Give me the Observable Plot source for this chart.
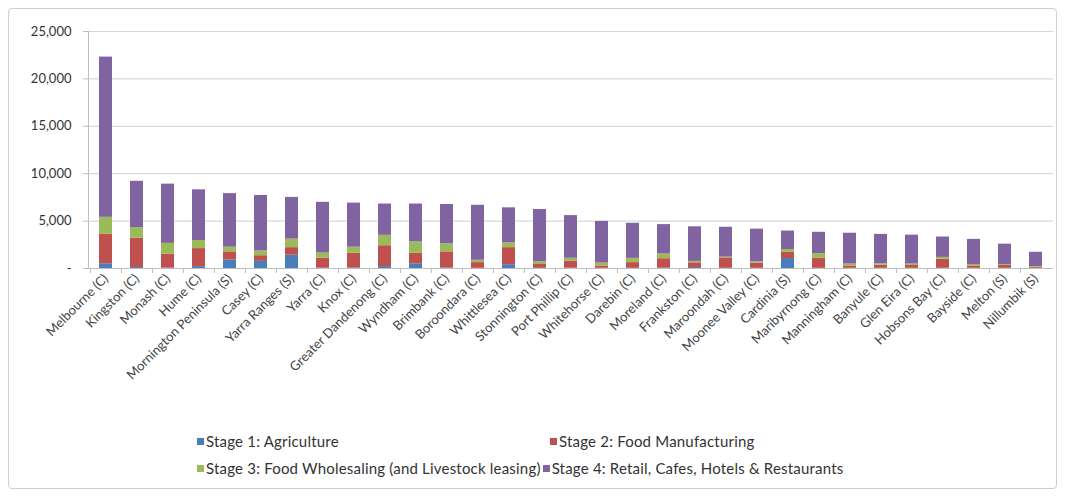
<!DOCTYPE html>
<html>
<head>
<meta charset="utf-8">
<script src="https://cdn.jsdelivr.net/npm/d3@7"></script>
<script src="https://cdn.jsdelivr.net/npm/@observablehq/plot@0.6"></script>
<style>
  html, body { margin: 0; padding: 0; background: #fff; }
  body { width: 1065px; height: 498px; position: relative; overflow: hidden; font-family: Lato, "Open Sans", sans-serif; }
  #frame { position: absolute; left: 8px; top: 8px; width: 1049px; height: 481px; border: 1px solid #cfcfcf; border-radius: 4px; box-sizing: border-box; }
  #chart { position: absolute; left: 0; top: 0; }
  .row { position: absolute; display: flex; align-items: center; }
  .leg { font-size: 15px; letter-spacing: 0.2px; color: #333; display: flex; align-items: center; white-space: nowrap; line-height: 18px; }
  .sw { width: 7px; height: 7px; margin-right: 2px; display: inline-block; }
</style>
</head>
<body>
<div id="frame"></div>
<div id="chart"></div>
<div id="legend"></div>
<script>
const councils = ["Melbourne (C)","Kingston (C)","Monash (C)","Hume (C)","Mornington Peninsula (S)","Casey (C)","Yarra Ranges (S)","Yarra (C)","Knox (C)","Greater Dandenong (C)","Wyndham (C)","Brimbank (C)","Boroondara (C)","Whittlesea (C)","Stonnington (C)","Port Phillip (C)","Whitehorse (C)","Darebin (C)","Moreland (C)","Frankston (C)","Maroondah (C)","Moonee Valley (C)","Cardinia (S)","Maribyrnong (C)","Manningham (C)","Banyule (C)","Glen Eira (C)","Hobsons Bay (C)","Bayside (C)","Melton (S)","Nillumbik (S)"];
const stages = ["Stage 1: Agriculture","Stage 2: Food Manufacturing","Stage 3: Food Wholesaling (and Livestock leasing)","Stage 4: Retail, Cafes, Hotels & Restaurants"];
const stage1 = [500,100,50,200,900,750,1400,30,50,200,500,50,20,400,20,30,20,20,30,100,20,20,1050,20,20,20,20,20,20,20,30];
const stage2 = [3100,3100,1450,1900,850,600,800,1050,1550,2200,1100,1700,600,1800,400,750,250,600,1000,500,1100,550,650,1050,250,330,300,950,250,300,120];
const stage3 = [1800,1100,1150,850,500,500,900,550,650,1100,1200,850,250,500,300,300,300,450,500,150,80,130,300,500,200,150,150,200,150,100,60];
const stage4 = [16900,4900,6250,5350,5650,5850,4400,5350,4650,3300,4000,4150,5800,3700,5500,4500,4400,3700,3100,3650,3150,3450,1950,2250,3250,3100,3050,2150,2650,2150,1500];
const colors = ["#4a7ebb","#c0504d","#9bbb59","#8064a2"];
const yTicks = [0,5000,10000,15000,20000,25000];

const series = [stage1, stage2, stage3, stage4];
const rows = [];
councils.forEach((c, i) => stages.forEach((s, k) => rows.push({council: c, stage: s, value: series[k][i]})));

const W = 1065, mL = 88, mR = 12;
const step = (W - mL - mR) / councils.length;

const chart = Plot.plot({
  width: W,
  height: 430,
  marginLeft: mL,
  marginRight: mR,
  marginTop: 31,
  marginBottom: 162,
  style: {fontFamily: "Lato, 'Open Sans', sans-serif", fontSize: "13px", color: "#333", background: "transparent"},
  x: {domain: councils, paddingInner: 0.58, paddingOuter: 0.29, label: null},
  y: {domain: [0, 25000], ticks: yTicks, label: null},
  color: {domain: stages, range: colors},
  marks: [
    Plot.gridY(yTicks, {stroke: "#d9d9d9", strokeOpacity: 1, strokeWidth: 1.2}),
    Plot.frame({anchor: "left", stroke: "#bdbdbd"}),
    Plot.barY(rows, {x: "council", y: "value", fill: "stage", order: stages}),
    Plot.ruleY([0], {stroke: "#bdbdbd", strokeWidth: 1.2}),
    Plot.axisY({ticks: yTicks, tickSize: 5, tickPadding: 12, stroke: "#bdbdbd", tickFormat: d => d === 0 ? "-" : d3.format(",")(d), fill: "#333", fontSize: 13}),
    Plot.axisX({tickSize: 5, text: null, stroke: "#bdbdbd", dx: -step / 2}),
    Plot.axisX({tickSize: 0, tickRotate: -45, tickPadding: 8, fill: "#444", fontSize: 13, label: null})
  ]
});
document.getElementById("chart").appendChild(chart);

const legend = document.getElementById("legend");
function item(k) {
  const d = document.createElement("div");
  d.className = "leg";
  d.innerHTML = `<span class="sw" style="background:${colors[k]}"></span><span></span>`;
  d.lastChild.textContent = stages[k];
  return d;
}
const r1a = document.createElement("div"); r1a.className = "row"; r1a.style.left = "197px"; r1a.style.top = "432px"; r1a.appendChild(item(0));
const r1b = document.createElement("div"); r1b.className = "row"; r1b.style.left = "550px"; r1b.style.top = "432px"; r1b.appendChild(item(1));
const r2 = document.createElement("div"); r2.className = "row"; r2.style.left = "197px"; r2.style.top = "459px"; r2.style.gap = "2px";
r2.appendChild(item(2)); r2.appendChild(item(3));
legend.append(r1a, r1b, r2);
</script>
</body>
</html>
